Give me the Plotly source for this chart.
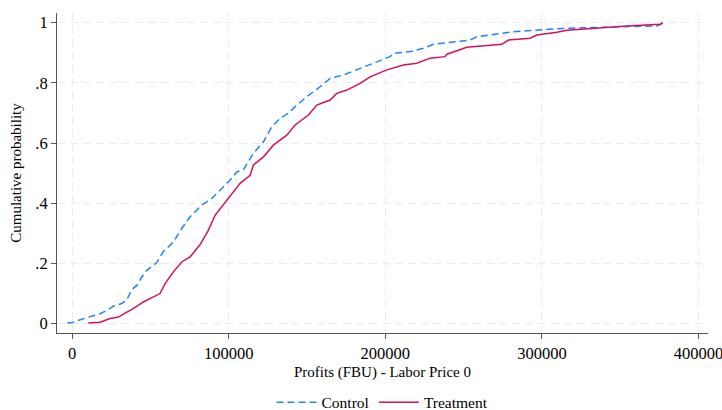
import plotly.graph_objects as go

# Control (dashed blue) empirical CDF, profits in FBU
control_x = [-3000, 200, 9400, 17900, 22200, 26400, 31700, 34900, 38100, 41300, 44500, 47700,
             54100, 58300, 64700, 70000, 75400, 82800, 89200, 95600, 100900, 105200, 109400,
             115800, 122200, 127500, 132800, 138100, 143500, 149900, 158400, 164800, 173300,
             183900, 194600, 203100, 205200, 216100, 224300, 230700, 254200, 258400, 281800,
             307400, 326500, 358400, 373400, 376600]
control_y = [0.002, 0.004, 0.020, 0.033, 0.044, 0.058, 0.067, 0.078, 0.113, 0.127, 0.155, 0.177,
             0.203, 0.240, 0.271, 0.316, 0.355, 0.394, 0.416, 0.449, 0.477, 0.504, 0.512,
             0.566, 0.604, 0.654, 0.682, 0.699, 0.726, 0.754, 0.787, 0.815, 0.826,
             0.848, 0.870, 0.887, 0.898, 0.904, 0.915, 0.928, 0.942, 0.953, 0.970,
             0.979, 0.983, 0.986, 0.989, 0.997]

# Treatment (solid crimson) empirical CDF
treatment_x = [10400, 17900, 24300, 29600, 33900, 39100, 45500, 51900, 56200, 59400, 64700,
               70000, 75400, 81700, 87000, 91300, 96600, 102000, 107300, 113700, 115800, 122200,
               128500, 137100, 142400, 150900, 156300, 164800, 169000, 175400, 183900, 190300,
               201000, 211600, 220100, 228600, 238200, 239300, 252000, 274400, 278600, 292500,
               296700, 309500, 315900, 354200, 375500, 377200]
treatment_y = [0.002, 0.005, 0.017, 0.022, 0.035, 0.050, 0.072, 0.088, 0.100, 0.133, 0.172,
               0.205, 0.222, 0.262, 0.310, 0.360, 0.394, 0.432, 0.466, 0.493, 0.527, 0.554,
               0.593, 0.626, 0.660, 0.693, 0.726, 0.743, 0.765, 0.776, 0.798, 0.820,
               0.843, 0.859, 0.865, 0.882, 0.887, 0.895, 0.918, 0.928, 0.942, 0.948,
               0.959, 0.968, 0.975, 0.989, 0.995, 1.000]

x_ticks = [0, 100000, 200000, 300000, 400000]
x_tick_labels = ["0", "100000", "200000", "300000", "400000"]
y_ticks = [0, 0.2, 0.4, 0.6, 0.8, 1.0]
y_tick_labels = ["0", ".2", ".4", ".6", ".8", "1"]

FONT = "Liberation Serif, Times New Roman, serif"

fig = go.Figure()
fig.add_trace(go.Scatter(x=control_x, y=control_y, mode="lines", name="Control",
                         line=dict(color="#1a85ff", width=1.5, dash="7px,4px")))
fig.add_trace(go.Scatter(x=treatment_x, y=treatment_y, mode="lines", name="Treatment",
                         line=dict(color="#d41159", width=1.5)))

axis_common = dict(showline=True, linecolor="#555555", linewidth=1, ticks="outside",
                   ticklen=5, tickcolor="#555555", showgrid=True, gridcolor="#ebebeb",
                   gridwidth=1, griddash="8px,5px", zeroline=False, automargin=False,
                   ticklabeloverflow="allow",
                   tickfont=dict(family=FONT, size=16.5, color="#000000"))

fig.update_xaxes(range=[-9600, 406000], tickvals=x_ticks, ticktext=x_tick_labels,
                 title=dict(text="Profits (FBU) - Labor Price 0", standoff=4,
                            font=dict(family=FONT, size=15, color="#000000")),
                 **axis_common)
fig.update_yaxes(range=[-0.031, 1.032], tickvals=y_ticks, ticktext=y_tick_labels,
                 title=dict(text="Cumulative probability", standoff=10,
                            font=dict(family=FONT, size=15, color="#000000")),
                 **axis_common)

fig.update_layout(
    width=722, height=410,
    margin=dict(l=57, r=14, t=13, b=77, autoexpand=False),
    plot_bgcolor="white", paper_bgcolor="white",
    font=dict(family=FONT, size=15, color="#000000"),
    showlegend=True,
    legend=dict(orientation="h", x=0.5, xanchor="center", y=-0.165, yanchor="top",
                itemwidth=40,
                font=dict(family=FONT, size=15.5, color="#000000")),
)

fig.write_html("out.html", config={"displayModeBar": False},
               post_script="document.body.style.margin='0';document.body.style.overflow='hidden';")
